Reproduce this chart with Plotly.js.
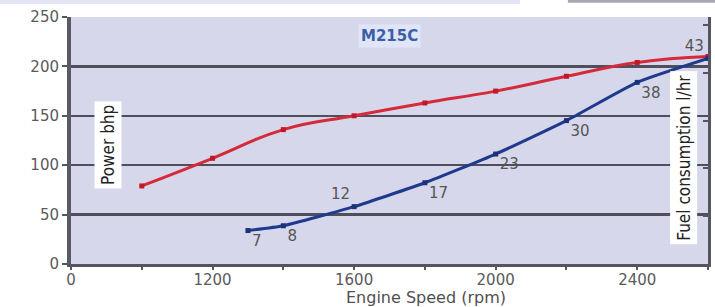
<!DOCTYPE html>
<html>
<head>
<meta charset="utf-8">
<script src="https://cdn.plot.ly/plotly-3.0.1.min.js"></script>
<style>html,body{margin:0;padding:0;background:#fff;}#chart{width:715px;height:307px;}</style>
</head>
<body>
<div id="chart"></div>
<script>
// Power curve (left axis, bhp)
const rpmPower = [1000, 1200, 1400, 1600, 1800, 2000, 2200, 2400, 2600];
const powerBhp = [79, 107, 136, 150, 163, 175, 190, 204, 210];
// Fuel consumption curve (right axis, l/hr)
const rpmFuel = [1300, 1400, 1600, 1800, 2000, 2200, 2400, 2600];
const fuelLhr = [7, 8, 12, 17, 23, 30, 38, 43];
const fuelLabelPos = ['bottom right', 'bottom right', 'top left', 'bottom right', 'bottom right', 'bottom right', 'bottom right', 'top left'];
// Axis ticks
const xTickVals = [800, 1200, 1600, 2000, 2400];
const xTickText = ['0', '1200', '1600', '2000', '2400'];
const yTickVals = [0, 50, 100, 150, 200, 250];
const y2TickVals = [0, 10, 20, 30, 40, 50];

const tickFont = {family: 'DejaVu Sans, Verdana, sans-serif', size: 15, color: '#5a5a5a'};
const narrow = 'Liberation Sans Narrow, DejaVu Sans Condensed, Arial Narrow, sans-serif';

const traces = [
  {
    x: rpmPower, y: powerBhp, type: 'scatter', mode: 'lines+markers',
    line: {color: '#d42a3a', width: 3, shape: 'spline', smoothing: 1.3},
    marker: {color: '#c01828', size: 5, symbol: 'square'},
    hoverinfo: 'none', showlegend: false
  },
  {
    x: rpmFuel, y: fuelLhr, yaxis: 'y2', type: 'scatter', mode: 'lines+markers+text',
    line: {color: '#1f3a8c', width: 3, shape: 'spline', smoothing: 0.5},
    marker: {color: '#1a3278', size: 5, symbol: 'square'},
    text: fuelLhr.map(String), textposition: fuelLabelPos,
    textfont: {family: 'DejaVu Sans, Verdana, sans-serif', size: 15, color: '#555555'},
    cliponaxis: false,
    hoverinfo: 'none', showlegend: false
  }
];

const layout = {
  width: 715, height: 307,
  margin: {l: 71, r: 7, t: 17, b: 43},
  paper_bgcolor: '#ffffff',
  plot_bgcolor: '#d7d7ec',
  font: tickFont,
  xaxis: {
    range: [800, 2600], showgrid: false, zeroline: false,
    tickmode: 'array', tickvals: xTickVals, ticktext: xTickText,
    ticks: '', tickfont: tickFont,
    showline: true, linecolor: '#555560', linewidth: 3,
    minor: {dtick: 200, tick0: 800, ticks: 'outside', ticklen: 3, tickcolor: '#555560', tickwidth: 2, showgrid: false}
  },
  yaxis: {
    range: [0, 250], tickvals: yTickVals, showgrid: true,
    gridcolor: '#4e4e5c', gridwidth: 2.5, zeroline: false,
    ticks: 'outside', ticklen: 5, tickcolor: '#555560', tickwidth: 2,
    tickfont: tickFont, showline: true, linecolor: '#5a5a64', linewidth: 4
  },
  yaxis2: {
    overlaying: 'y', side: 'right', range: [0, 51.67], tickvals: y2TickVals,
    showticklabels: false, showgrid: false, zeroline: false,
    ticks: 'inside', ticklen: 5, tickcolor: '#555560', tickwidth: 2,
    showline: true, linecolor: '#555560', linewidth: 3
  },
  annotations: [
    {text: '<b>M215C</b>', xref: 'paper', yref: 'paper', x: 0.5, y: 0.925,
     xanchor: 'center', yanchor: 'middle',
     showarrow: false, font: {family: 'DejaVu Sans, Verdana, sans-serif', size: 15, color: '#3d5ea6'},
     bgcolor: 'rgba(225,232,248,0.9)', borderpad: 2},
    {text: 'Power bhp', xref: 'paper', yref: 'paper', x: 0.058, y: 0.482, textangle: -90,
     xanchor: 'center', yanchor: 'middle',
     showarrow: false, font: {family: narrow, size: 17, color: '#222222'},
     bgcolor: '#ffffff', borderpad: 3},
    {text: 'Fuel consumption l/hr', xref: 'paper', yref: 'paper', x: 0.961, y: 0.431, textangle: -90,
     xanchor: 'center', yanchor: 'middle',
     showarrow: false, font: {family: narrow, size: 17, color: '#222222'},
     bgcolor: '#ffffff', borderpad: 3},
    {text: 'Engine Speed (rpm)', xref: 'paper', yref: 'paper', x: 0.557, y: -0.134,
     xanchor: 'center', yanchor: 'middle',
     showarrow: false, font: {family: 'DejaVu Sans, Verdana, sans-serif', size: 16, color: '#505050'}}
  ],
  shapes: [
    {type: 'rect', xref: 'paper', yref: 'paper', x0: -0.12, x1: 0.705, y0: 1.053, y1: 1.075,
     fillcolor: '#e4e6f6', line: {width: 0}, layer: 'below'},
    {type: 'rect', xref: 'paper', yref: 'paper', x0: 0.78, x1: 1.02, y0: 1.058, y1: 1.075,
     fillcolor: '#a8a8b0', line: {width: 0}, layer: 'below'}
  ]
};

Plotly.newPlot('chart', traces, layout, {displayModeBar: false, staticPlot: true});
</script>
</body>
</html>
